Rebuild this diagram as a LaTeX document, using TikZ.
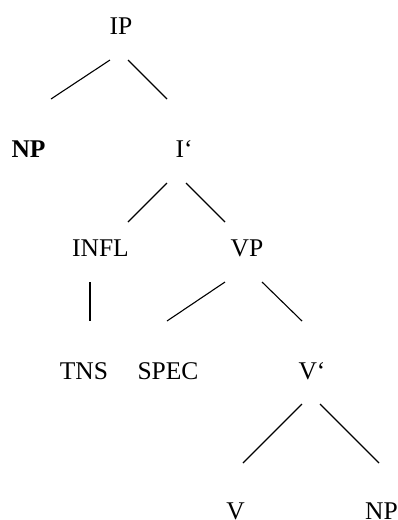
\documentclass[tikz,border=0pt]{standalone}
\usepackage{fontspec}
\setmainfont{Liberation Serif}
\begin{document}
\begin{tikzpicture}[x=1pt,y=-1pt,
  lbl/.style={anchor=base,inner sep=0pt,font=\fontsize{25.5}{30}\selectfont},
  edge/.style={line width=1.1pt}]
\useasboundingbox (0,0) rectangle (398,520);
% labels
\node[lbl] (ip) at (121,34) {IP};
\node[lbl,font=\fontsize{25.5}{30}\selectfont\bfseries] (np1) at (28.5,157) {NP};
\node[lbl] (ibar) at (184,157) {I‘};
\node[lbl] (infl) at (100.5,256) {INFL};
\node[lbl] (vp) at (247,256) {VP};
\node[lbl] (tns) at (84,379) {TNS};
\node[lbl] (spec) at (168,379) {SPEC};
\node[lbl] (vbar) at (312,379) {V‘};
\node[lbl] (v) at (235.5,519) {V};
\node[lbl] (np2) at (381.5,519) {NP};
% branch end points
\coordinate (a1) at (110,60);  \coordinate (a2) at (51,99);
\coordinate (b1) at (128,60);  \coordinate (b2) at (167,99);
\coordinate (c1) at (167,183); \coordinate (c2) at (128,222);
\coordinate (d1) at (186,183); \coordinate (d2) at (225,222);
\coordinate (e1) at (90,282);  \coordinate (e2) at (90,321);
\coordinate (f1) at (225,282); \coordinate (f2) at (167,321);
\coordinate (g1) at (262,282); \coordinate (g2) at (302,321);
\coordinate (h1) at (302,404); \coordinate (h2) at (243,463);
\coordinate (k1) at (320,404); \coordinate (k2) at (379,463);
\draw[edge] (a1) -- (a2);
\draw[edge] (b1) -- (b2);
\draw[edge] (c1) -- (c2);
\draw[edge] (d1) -- (d2);
\draw[edge] (e1) -- (e2);
\draw[edge] (f1) -- (f2);
\draw[edge] (g1) -- (g2);
\draw[edge] (h1) -- (h2);
\draw[edge] (k1) -- (k2);
\end{tikzpicture}
\end{document}
